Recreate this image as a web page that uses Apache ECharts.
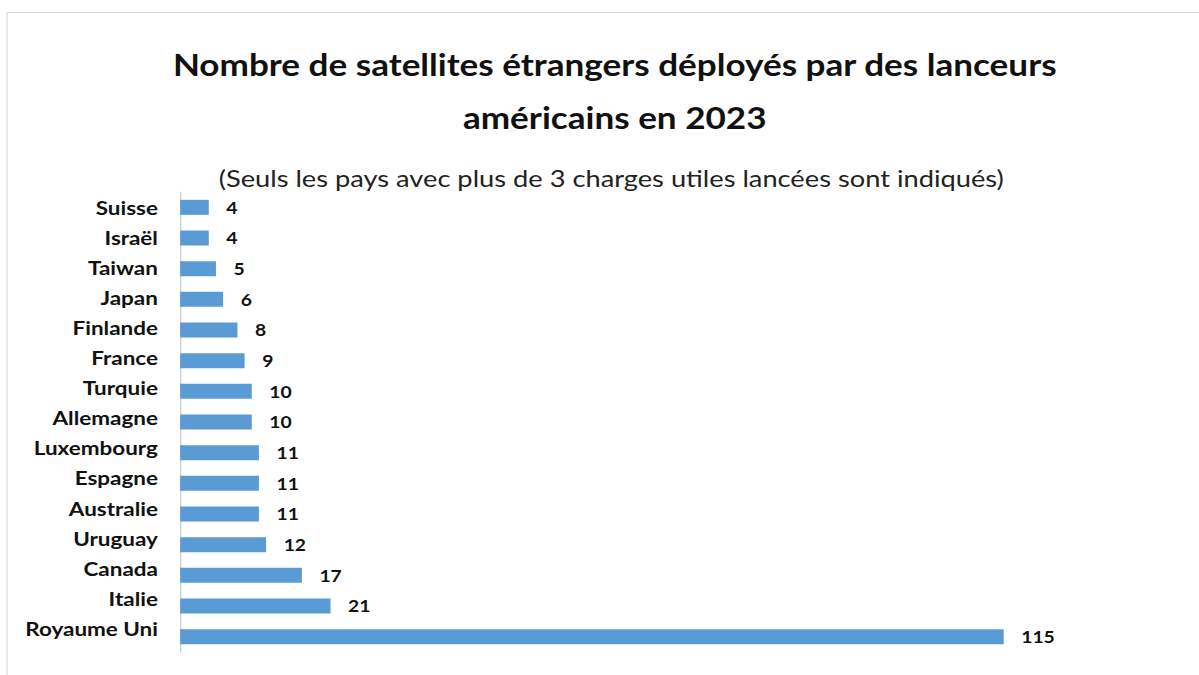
<!DOCTYPE html>
<html><head><meta charset="utf-8">
<script src="https://cdn.jsdelivr.net/npm/echarts@6/dist/echarts.min.js"></script>
<style>html,body{margin:0;padding:0;background:#fff;overflow:hidden}
#c{width:1025px;height:675px;transform:scaleX(1.1698);transform-origin:0 0}</style>
</head><body><div id="c"></div>
<script>
const categories = ['Suisse','Israël','Taiwan','Japan','Finlande','France','Turquie','Allemagne','Luxembourg','Espagne','Australie','Uruguay','Canada','Italie','Royaume Uni'];
const values = [4,4,5,6,8,9,10,10,11,11,11,12,17,21,115];
const titleText = 'Nombre de satellites étrangers déployés par des lanceurs\naméricains en 2023';
const subtitleText = '(Seuls les pays avec plus de 3 charges utiles lancées sont indiqués)';

const chart = echarts.init(document.getElementById('c'), null, {renderer: 'svg'});
chart.setOption({
  animation: false,
  textStyle: {fontFamily: 'Lato'},
  graphic: [{type:'rect', shape:{x:6,y:12.5,width:1200,height:700}, style:{fill:'none', stroke:'#d9d9d9', lineWidth:1}, silent:true}],
  title: [
    {text: titleText, left: 520.5, textAlign: 'center', top: 33,
     textStyle: {fontFamily:'Lato', fontWeight:'bold', fontSize:30, color:'#111', lineHeight:53}},
    {text: subtitleText, left: 517.5, textAlign: 'center', top: 161,
     textStyle: {fontFamily:'Lato', fontWeight:'normal', fontSize:23.3, color:'#222'}}
  ],
  grid: [
    {left: 154, right: 167, top: 192, bottom: 23, containLabel: false},
    {left: 154, right: 167, top: 192, bottom: 32, containLabel: false}
  ],
  xAxis: [
    {type:'value', min:0, max:115, show:false, gridIndex:0},
    {type:'value', min:0, max:115, show:false, gridIndex:1}
  ],
  yAxis: [
    {type:'category', data: categories, inverse: true, gridIndex:0,
     axisLine: {show:true, lineStyle:{color:'#c8c8c8', width:1}},
     axisTick: {show:false}, axisLabel: {show:false}},
    {type:'category', data: categories, inverse: true, gridIndex:1,
     axisLine: {show:false}, axisTick: {show:false},
     axisLabel: {margin: 19, fontFamily:'Lato', fontWeight:'bold', fontSize:19.2, color:'#111'}}
  ],
  series: [{type:'bar', data: values, barWidth: 15, xAxisIndex:0, yAxisIndex:0, itemStyle:{color:'#5b9bd5'},
    label: {show:true, position:'right', distance: 15, fontFamily:'Lato', fontWeight:'bold', fontSize:16.5, color:'#111'}}]
});
</script></body></html>
